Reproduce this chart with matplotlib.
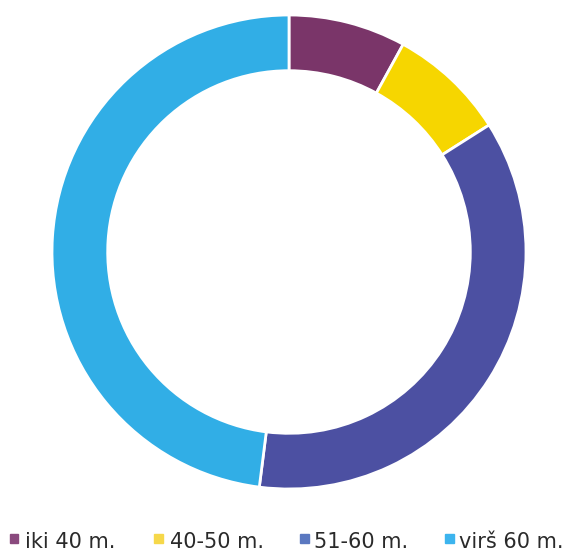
import matplotlib
matplotlib.use("Agg")
import matplotlib.pyplot as plt

labels = ["iki 40 m.", "40-50 m.", "51-60 m.", "virš 60 m."]
values = [8, 8, 36, 48]
colors = ["#7a3569", "#f6d600", "#4c50a2", "#31aee6"]
legend_colors = ["#8a4a7e", "#f6d84a", "#5a78c0", "#3cb4ee"]

fig = plt.figure(figsize=(5.66, 5.54), dpi=100)
W, H = 566, 554
cx, cy, r = 289, 252, 237
ax = fig.add_axes([(cx - r) / W, (H - cy - r) / H, 2 * r / W, 2 * r / H])
ax.pie(values, colors=colors, startangle=90, counterclock=False, radius=1,
       wedgeprops=dict(width=0.235, edgecolor="white", linewidth=2))
ax.set_xlim(-1, 1)
ax.set_ylim(-1, 1)
ax.axis("off")

# legend row along the bottom, placed by hand like the original
square_x = [14, 158, 304, 449]
text_x = [25, 170, 314, 459]
for sx, tx, lab, c in zip(square_x, text_x, labels, legend_colors):
    fig.patches.append(plt.Rectangle(((sx - 4.5) / W, 1 - 543 / H), 9 / W, 9 / H,
                                     transform=fig.transFigure, color=c))
    fig.text(tx / W, 1 - 548 / H, lab, fontsize=15, color="#2a2a2a",
             va="baseline", ha="left")

fig.savefig("out.png", dpi=100)
